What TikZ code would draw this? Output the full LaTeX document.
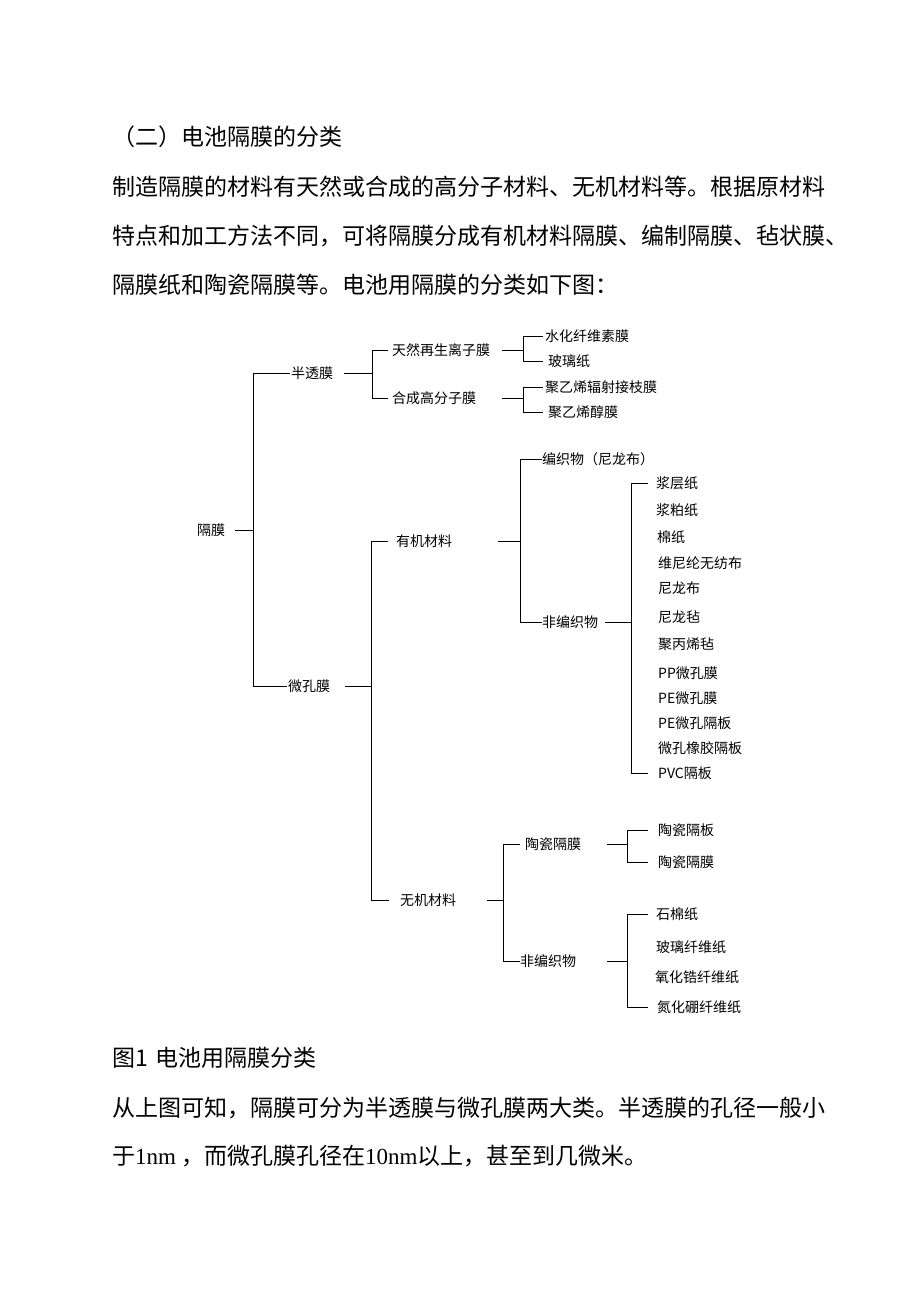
\documentclass[tikz,border=0pt]{standalone}
\usepackage{fontspec}
\setmainfont{Noto Sans CJK SC}
\newfontfamily\latinserif{Liberation Serif}

\begin{document}
\begin{tikzpicture}[x=1pt, y=-1pt,
body/.style={anchor=west, inner sep=0pt, font=\fontsize{23}{28}\selectfont},
lbl/.style={anchor=west, inner sep=0pt, font=\fontsize{14}{16}\selectfont},
branch/.style={line width=1pt}
]
\useasboundingbox (0,0) rectangle (920,1306);

% text above the figure
\node[body] (head) at (112,137) {（二）电池隔膜的分类};
\node[body] (para1) at (112,187) {制造隔膜的材料有天然或合成的高分子材料、无机材料等。根据原材料};
\node[body] (para2) at (112,236) {特点和加工方法不同，可将隔膜分成有机材料隔膜、编制隔膜、毡状膜、};
\node[body] (para3) at (112,285) {隔膜纸和陶瓷隔膜等。电池用隔膜的分类如下图：};

% tree
\node[lbl] (gm) at (197,530) {隔膜};
\node[lbl] (bt) at (291,373) {半透膜};
\node[lbl] (wk) at (288,686) {微孔膜};
\node[lbl] (tr) at (392,350) {天然再生离子膜};
\node[lbl] (hc) at (392,398) {合成高分子膜};
\node[lbl] (tr1) at (545,336) {水化纤维素膜};
\node[lbl] (tr2) at (548,361) {玻璃纸};
\node[lbl] (hc1) at (545,387) {聚乙烯辐射接枝膜};
\node[lbl] (hc2) at (548,412) {聚乙烯醇膜};
\node[lbl] (yj) at (396,541) {有机材料};
\node[lbl] (wj) at (400,900) {无机材料};
\node[lbl] (bz) at (542,459) {编织物（尼龙布）};
\node[lbl] (fb) at (542,622) {非编织物};
\node[lbl] (fb1) at (656,483) {浆层纸};
\node[lbl] (fb2) at (656,510) {浆粕纸};
\node[lbl] (fb3) at (657,537) {棉纸};
\node[lbl] (fb4) at (658,563) {维尼纶无纺布};
\node[lbl] (fb5) at (658,588) {尼龙布};
\node[lbl] (fb6) at (658,617) {尼龙毡};
\node[lbl] (fb7) at (658,644) {聚丙烯毡};
\node[lbl] (fb8) at (658,673) {PP微孔膜};
\node[lbl] (fb9) at (658,698) {PE微孔膜};
\node[lbl] (fb10) at (658,723) {PE微孔隔板};
\node[lbl] (fb11) at (658,748) {微孔橡胶隔板};
\node[lbl] (fb12) at (658,773) {PVC隔板};
\node[lbl] (tc) at (525,844) {陶瓷隔膜};
\node[lbl] (fw) at (520,961) {非编织物};
\node[lbl] (tc1) at (658,830) {陶瓷隔板};
\node[lbl] (tc2) at (658,862) {陶瓷隔膜};
\node[lbl] (fw1) at (656,914) {石棉纸};
\node[lbl] (fw2) at (656,947) {玻璃纤维纸};
\node[lbl] (fw3) at (655,977) {氧化锆纤维纸};
\node[lbl] (fw4) at (657,1007) {氮化硼纤维纸};

\coordinate (bus0) at (253,0);
\coordinate (bus1) at (372,0);
\coordinate (bus2) at (371,0);
\coordinate (bus3) at (523,0);
\coordinate (bus4) at (520,0);
\coordinate (bus5) at (631,0);
\coordinate (bus6) at (503,0);
\coordinate (bus7) at (627,0);

\draw[branch] ([xshift=10]gm.east) -- (gm.east -| bus0);
\draw[branch] ([xshift=-1]bt.west) -| (bus0 |- wk.west) -- ([xshift=-1]wk.west);

\draw[branch] ([xshift=11]bt.east) -- (bt.east -| bus1);
\draw[branch] ([xshift=-4]tr.west) -| (bus1 |- hc.west) -- ([xshift=-4]hc.west);
\draw[branch] ([xshift=12]tr.east) -- (tr.east -| bus3);
\draw[branch] ([xshift=-2]tr1.west) -| (bus3 |- tr2.west) -- ([xshift=-5]tr2.west);
\draw[branch] ([xshift=26]hc.east) -- (hc.east -| bus3);
\draw[branch] ([xshift=-2]hc1.west) -| (bus3 |- hc2.west) -- ([xshift=-5]hc2.west);

\draw[branch] ([xshift=15]wk.east) -- (wk.east -| bus2);
\draw[branch] ([xshift=-8]yj.west) -| (bus2 |- wj.west) -- ([xshift=-11]wj.west);

\draw[branch] ([xshift=46]yj.east) -- (yj.east -| bus4);
\draw[branch] (bz.west) -| (bus4 |- fb.west) -- (fb.west);
\draw[branch] ([xshift=7]fb.east) -- (fb.east -| bus5);
\draw[branch] ([xshift=-8]fb1.west) -| (bus5 |- fb12.west) -- ([xshift=-10]fb12.west);

\draw[branch] ([xshift=31]wj.east) -- (wj.east -| bus6);
\draw[branch] ([xshift=-5]tc.west) -| (bus6 |- fw.west) -- (fw.west);
\draw[branch] ([xshift=26]tc.east) -- (tc.east -| bus7);
\draw[branch] ([xshift=-10]tc1.west) -| (bus7 |- tc2.west) -- ([xshift=-10]tc2.west);
\draw[branch] ([xshift=31]fw.east) -- (fw.east -| bus7);
\draw[branch] ([xshift=-8]fw1.west) -| (bus7 |- fw4.west) -- ([xshift=-9]fw4.west);

% text below the figure
\node[body] (cap) at (112,1058) {图1\hspace{8pt}电池用隔膜分类};
\node[body] (para4) at (112,1108) {从上图可知，隔膜可分为半透膜与微孔膜两大类。半透膜的孔径一般小};
\node[body] (para5) at (112,1156) {于{\latinserif 1nm} ，而微孔膜孔径在{\latinserif 10nm}以上，甚至到几微米。};
\end{tikzpicture}
\end{document}
